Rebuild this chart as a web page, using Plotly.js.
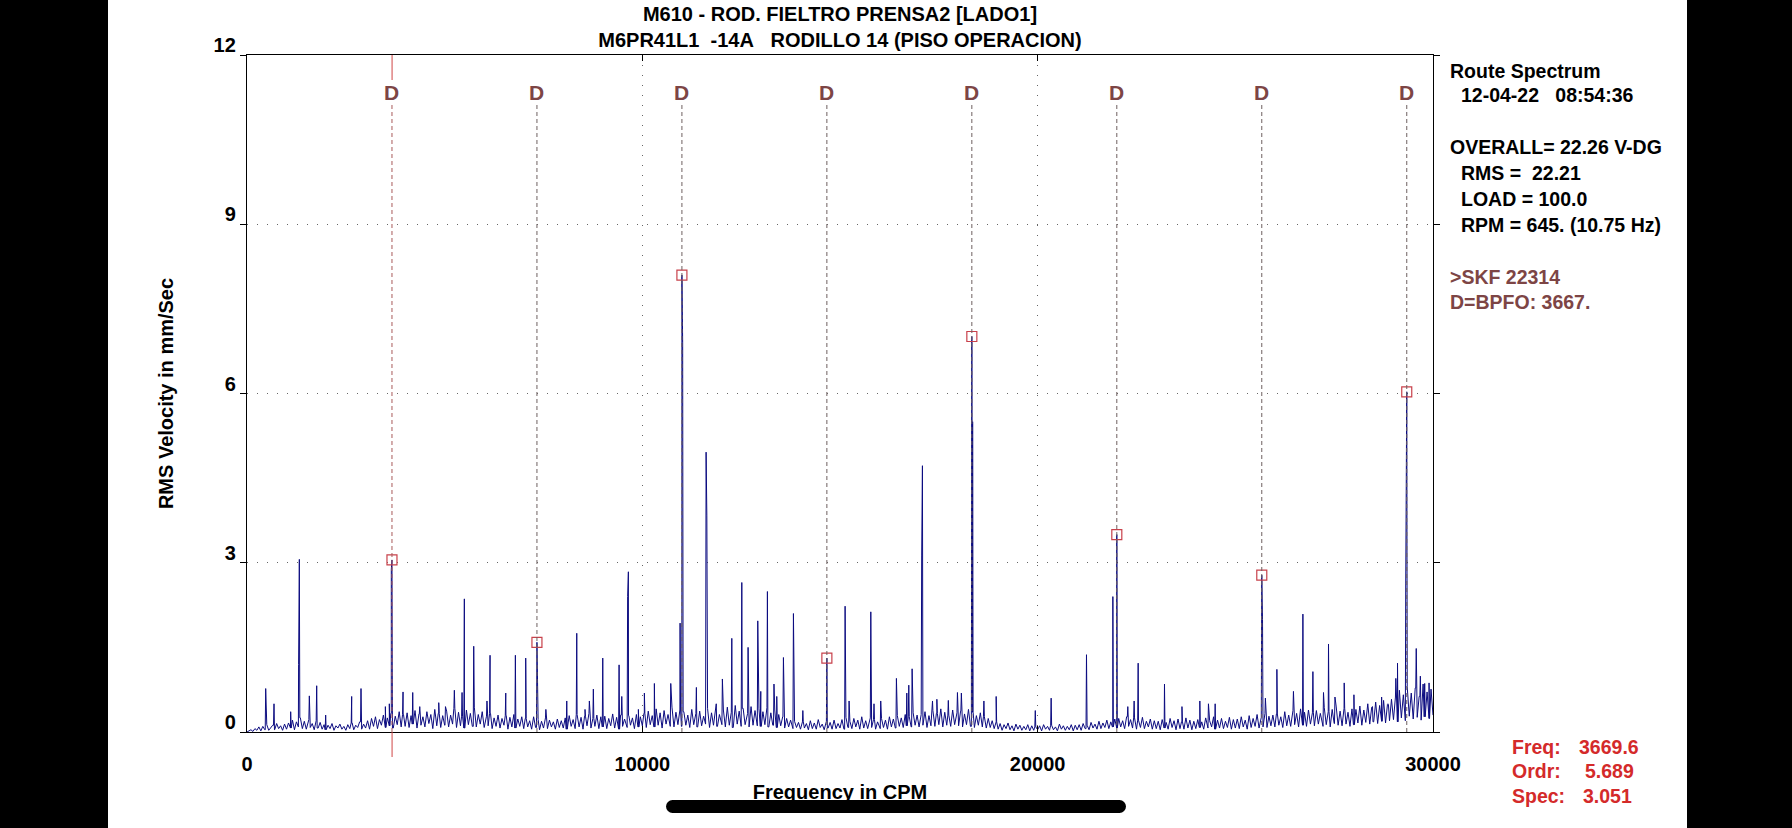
<!DOCTYPE html>
<html><head><meta charset="utf-8">
<script src="https://cdn.plot.ly/plotly-3.0.1.min.js"></script>
<style>html,body{margin:0;padding:0;background:#fff;overflow:hidden}#chart{width:1792px;height:828px}</style>
</head><body><div id="chart"></div>
<script>
// ---- data ----
const floorStep = 50; // CPM between noise-floor samples
const floorAmp = [
0.00,0.02,0.04,0.01,0.06,0.03,0.09,0.02,0.10,0.04,0.13,0.03,0.08,0.12,0.04,0.15,0.06,0.11,0.03,0.14,
0.05,0.16,0.07,0.21,0.04,0.18,0.09,0.25,0.06,0.19,0.05,0.22,0.08,0.15,0.04,0.20,0.07,0.17,0.05,0.13,
0.04,0.12,0.06,0.15,0.03,0.11,0.07,0.14,0.05,0.10,0.03,0.13,0.06,0.16,0.04,0.12,0.08,0.18,0.05,0.14,
0.07,0.20,0.05,0.24,0.10,0.27,0.06,0.22,0.12,0.30,0.08,0.25,0.11,0.33,0.07,0.28,0.13,0.36,0.09,0.31,
0.10,0.34,0.08,0.29,0.14,0.38,0.07,0.32,0.12,0.27,0.09,0.36,0.15,0.31,0.06,0.40,0.11,0.33,0.08,0.29,
0.12,0.37,0.09,0.30,0.14,0.42,0.08,0.35,0.11,0.28,0.07,0.39,0.13,0.33,0.10,0.44,0.09,0.31,0.14,0.36,
0.08,0.28,0.11,0.33,0.06,0.25,0.10,0.30,0.07,0.24,0.12,0.29,0.05,0.26,0.09,0.31,0.07,0.23,0.10,0.27,
0.06,0.24,0.09,0.20,0.05,0.27,0.08,0.22,0.04,0.19,0.07,0.25,0.06,0.21,0.09,0.18,0.05,0.23,0.08,0.20,
0.07,0.25,0.05,0.29,0.10,0.22,0.06,0.31,0.09,0.26,0.05,0.28,0.11,0.33,0.07,0.24,0.10,0.30,0.06,0.27,
0.09,0.28,0.06,0.24,0.11,0.32,0.07,0.26,0.05,0.30,0.10,0.23,0.08,0.29,0.12,0.25,0.06,0.31,0.09,0.27,
0.11,0.33,0.08,0.37,0.13,0.29,0.09,0.41,0.12,0.34,0.07,0.38,0.14,0.31,0.10,0.44,0.09,0.35,0.13,0.39,
0.10,0.36,0.12,0.30,0.08,0.40,0.13,0.33,0.09,0.37,0.11,0.28,0.14,0.42,0.08,0.34,0.12,0.38,0.10,0.31,
0.13,0.39,0.09,0.44,0.12,0.35,0.08,0.47,0.14,0.37,0.10,0.42,0.13,0.33,0.09,0.45,0.12,0.38,0.11,0.41,
0.10,0.36,0.13,0.43,0.09,0.34,0.12,0.39,0.08,0.31,0.11,0.27,0.07,0.24,0.09,0.21,0.06,0.19,0.08,0.17,
0.05,0.18,0.07,0.15,0.04,0.20,0.06,0.16,0.05,0.22,0.08,0.14,0.04,0.19,0.07,0.17,0.05,0.21,0.06,0.15,
0.07,0.22,0.05,0.26,0.08,0.19,0.06,0.24,0.09,0.21,0.05,0.27,0.07,0.20,0.06,0.25,0.08,0.22,0.05,0.18,
0.06,0.24,0.08,0.21,0.05,0.27,0.09,0.23,0.07,0.29,0.10,0.25,0.08,0.31,0.11,0.27,0.09,0.34,0.12,0.30,
0.09,0.31,0.12,0.36,0.08,0.29,0.11,0.38,0.10,0.33,0.13,0.41,0.09,0.35,0.12,0.30,0.10,0.39,0.13,0.34,
0.11,0.37,0.09,0.32,0.13,0.40,0.10,0.35,0.08,0.29,0.12,0.34,0.09,0.27,0.07,0.24,0.08,0.20,0.06,0.18,
0.05,0.15,0.03,0.13,0.06,0.16,0.04,0.11,0.02,0.14,0.05,0.12,0.03,0.10,0.04,0.13,0.02,0.11,0.03,0.09,
0.04,0.11,0.02,0.13,0.05,0.10,0.03,0.12,0.04,0.09,0.02,0.14,0.05,0.11,0.03,0.10,0.04,0.13,0.02,0.12,
0.04,0.13,0.03,0.15,0.06,0.12,0.04,0.17,0.07,0.14,0.05,0.19,0.06,0.16,0.08,0.21,0.06,0.18,0.09,0.23,
0.07,0.24,0.09,0.20,0.06,0.27,0.10,0.22,0.07,0.25,0.05,0.21,0.08,0.26,0.06,0.19,0.09,0.23,0.05,0.20,
0.06,0.19,0.04,0.22,0.07,0.17,0.05,0.24,0.08,0.20,0.04,0.23,0.06,0.18,0.05,0.25,0.07,0.21,0.04,0.19,
0.06,0.22,0.08,0.18,0.05,0.25,0.07,0.20,0.09,0.27,0.05,0.21,0.07,0.24,0.06,0.19,0.08,0.26,0.05,0.22,
0.07,0.23,0.06,0.27,0.09,0.21,0.05,0.29,0.08,0.24,0.10,0.31,0.07,0.26,0.09,0.33,0.08,0.28,0.11,0.30,
0.09,0.32,0.12,0.27,0.08,0.36,0.11,0.30,0.10,0.38,0.13,0.33,0.09,0.41,0.12,0.35,0.10,0.39,0.14,0.34,
0.11,0.38,0.14,0.33,0.10,0.43,0.13,0.36,0.09,0.40,0.15,0.46,0.12,0.37,0.11,0.42,0.14,0.35,0.10,0.41,
0.13,0.40,0.16,0.46,0.12,0.39,0.17,0.50,0.14,0.44,0.18,0.53,0.15,0.47,0.19,0.56,0.16,0.49,0.20,0.58,
0.22,0.62,0.18,0.74,0.25,0.66,0.20,0.80,0.28,0.69,0.23,0.78,0.26,0.63,0.21,0.85,0.27,0.71,0.24,0.76,
0.30];

const peakFreq = [473,683,1105,1305,1324,1577,1763,1990,2648,2884,3500,3600,3650,3947,4192,4370,4850,5020,5245,5440,5498,5735,6070,6148,6545,6789,7050,7352,7560,8088,8341,8550,8660,8761,8999,9412,9480,9628,9647,9900,10052,10305,10719,10955,11020,11367,11613,11632,11870,12025,12263,12516,12675,12920,12996,13164,13330,13400,13569,13822,14060,15129,15230,15779,15860,16030,16427,16690,16740,16824,17066,17085,17340,17450,17740,17971,18070,18355,18640,18950,19940,20341,21235,21902,22280,22440,22542,23208,23650,24102,24320,24490,25688,25760,26051,26470,26709,26962,27230,27357,27520,27754,28000,28470,28700,28860,29060,29102,29310,29576,29680,29790,29900];
const peakAmp  = [0.77,0.50,0.36,1.20,3.06,0.64,0.82,0.30,0.63,0.77,0.45,0.50,2.88,0.71,0.70,0.45,0.52,0.45,0.74,0.70,2.36,1.52,0.55,1.36,0.69,1.36,1.31,0.60,0.40,0.55,1.75,0.40,0.55,0.76,1.31,1.19,0.63,2.40,2.84,0.40,0.69,0.86,0.86,1.93,6.90,0.79,4.96,3.83,0.50,0.94,1.66,2.65,1.50,1.97,0.72,2.49,0.85,0.63,1.32,2.10,0.38,2.23,0.55,2.13,0.50,0.55,0.95,0.69,0.83,1.12,3.12,4.72,0.55,0.58,0.56,0.70,0.69,5.50,0.55,0.63,0.38,0.60,1.37,2.40,0.45,0.55,1.22,0.85,0.45,0.55,0.50,0.50,1.99,0.60,1.11,0.72,2.09,1.07,0.70,1.56,0.62,0.87,0.66,0.45,0.62,0.50,0.95,1.22,2.64,1.48,0.99,0.86,0.87];

// BPFO harmonics (D markers) and the spectrum amplitude marked at each
const dFreq = [3667,7334,11001,14668,18335,22002,25669,29336];
const dAmp  = [3.05,1.59,8.10,1.31,7.01,3.50,2.78,6.03];
const cursorFreq = 3669.6;

const xTickVals = [0,10000,20000,30000];
const xTickText = ['0','10000','20000','30000'];
const yTickVals = [0,3,6,9,12];
const yTickText = ['0','3','6','9','12'];

const titleLines = ['M610 - ROD. FIELTRO PRENSA2 [LADO1]', 'M6PR41L1\u00a0\u00a0-14A\u00a0\u00a0\u00a0RODILLO 14 (PISO OPERACION)'];
const infoText  = ['Route Spectrum','12-04-22\u00a0\u00a0\u00a008:54:36','OVERALL= 22.26 V-DG','RMS =\u00a0\u00a022.21','LOAD = 100.0','RPM = 645. (10.75 Hz)','>SKF 22314','D=BPFO: 3667.'];
const cursorLabels = ['Freq:','Ordr:','Spec:'];
const cursorValues = ['3669.6','5.689','3.051'];

// ---- build the spectrum line ----
const allPk = peakFreq.map((f,i)=>[f,peakAmp[i]]).concat(dFreq.map((f,i)=>[f,dAmp[i]])).sort((a,b)=>a[0]-b[0]);
const pts = floorAmp.map((a,i)=>[i*floorStep,a]);
const nearestFloor = f => floorAmp[Math.max(0,Math.min(floorAmp.length-1, Math.round(f/floorStep)))];
allPk.forEach((p,i)=>{
  pts.push(p);
  const prev = i>0 ? allPk[i-1][0] : -1e9;
  const next = i<allPk.length-1 ? allPk[i+1][0] : 1e9;
  if (p[0]-prev > 30) pts.push([p[0]-12, nearestFloor(p[0]-12)]);
  if (next-p[0] > 30) pts.push([p[0]+12, nearestFloor(p[0]+12)]);
});
pts.sort((a,b)=>a[0]-b[0]);

// ---- geometry helpers (pixel -> paper) ----
const W=1792, H=828, L=247, R=1433, T=55, B=732;
const px = x => (x-L)/(R-L);
const py = y => (B-y)/(B-T);

const FONT = 'Liberation Sans, Arial, Helvetica, sans-serif';
const brown = '#7d4545';
const red = '#d42a2a';

const traces = [
  {x: pts.map(p=>p[0]), y: pts.map(p=>p[1]), type:'scatter', mode:'lines',
   line:{color:'#0b0b80', width:1}, hoverinfo:'skip', cliponaxis:true},
  {x: dFreq, y: dAmp, type:'scatter', mode:'markers',
   marker:{symbol:'square-open', size:10, color:'#c8414b', line:{width:1.2, color:'#c8414b'}}, hoverinfo:'skip'}
];

const shapes = [];
dFreq.forEach((f,i)=>{
  shapes.push({type:'line', xref:'x', yref:'y', x0:f, x1:f, y0:0, y1:11.12, layer:'above',
    line:{color: i===0 ? '#a85a5a' : '#6e6060', width:1, dash:'4px,3px'}});
});
// cursor line (red) visible above the D label and below the axis
shapes.push({type:'line', xref:'x', yref:'paper', x0:cursorFreq, x1:cursorFreq, y0:1, y1:py(80), line:{color:'#d04545', width:1}});
shapes.push({type:'line', xref:'x', yref:'paper', x0:cursorFreq, x1:cursorFreq, y0:0, y1:py(757), line:{color:'#d04545', width:1}});
// phone-screenshot frame: black side bars and home indicator
shapes.push({type:'rect', xref:'paper', yref:'paper', x0:px(0), x1:px(108), y0:py(H+2), y1:py(-2), fillcolor:'#000', line:{width:0}, layer:'above'});
shapes.push({type:'rect', xref:'paper', yref:'paper', x0:px(1687), x1:px(W+2), y0:py(H+2), y1:py(-2), fillcolor:'#000', line:{width:0}, layer:'above'});
shapes.push({type:'rect', xref:'paper', yref:'paper', x0:px(672), x1:px(1120), y0:py(813), y1:py(800), fillcolor:'#000', line:{width:0}, layer:'above'});
shapes.push({type:'circle', xref:'paper', yref:'paper', x0:px(666), x1:px(679), y0:py(813), y1:py(800), fillcolor:'#000', line:{width:0}, layer:'above'});
shapes.push({type:'circle', xref:'paper', yref:'paper', x0:px(1113), x1:px(1126), y0:py(813), y1:py(800), fillcolor:'#000', line:{width:0}, layer:'above'});

const annotations = [];
dFreq.forEach(f=>{
  annotations.push({x:f, y:11.33, xref:'x', yref:'y', text:'D', showarrow:false,
    font:{family:FONT, size:21, color:brown, weight:700}});
});
const infoPos = [[1448,70.7,'#000'],[1459,95,'#000'],[1448,147.3,'#000'],[1459,173.3,'#000'],[1459,199.3,'#000'],[1459,225,'#000'],[1448,276.7,brown],[1448,302.3,brown]];
infoText.forEach((t,i)=>{
  annotations.push({xref:'paper', yref:'paper', x:px(infoPos[i][0]), y:py(infoPos[i][1]), xanchor:'left', yanchor:'middle',
    text:t, showarrow:false, font:{family:FONT, size:19.5, color:infoPos[i][2], weight:700}});
});
const curY = [746.7, 771, 795.7];
const curValX = [1641, 1636, 1634];
cursorLabels.forEach((t,i)=>{
  annotations.push({xref:'paper', yref:'paper', x:px(1510), y:py(curY[i]), xanchor:'left', yanchor:'middle',
    text:t, showarrow:false, font:{family:FONT, size:19.5, color:red, weight:700}});
  annotations.push({xref:'paper', yref:'paper', x:px(curValX[i]), y:py(curY[i]), xanchor:'right', yanchor:'middle',
    text:cursorValues[i], showarrow:false, font:{family:FONT, size:19.5, color:red, weight:700}});
});

const layout = {
  width:W, height:H, margin:{l:L, r:W-R, t:T, b:H-B, pad:0},
  paper_bgcolor:'#fff', plot_bgcolor:'#fff', showlegend:false, hovermode:false,
  font:{family:FONT, color:'#000'},
  title:{text:titleLines.join('<br>'), x:0.5, xref:'paper', xanchor:'center', y:1-21/H, yref:'container', yanchor:'middle',
    font:{family:FONT, size:20, color:'#000', weight:700}},
  xaxis:{range:[0,30000], tickvals:xTickVals, ticktext:xTickText, showline:true, linecolor:'#000', linewidth:1.2, mirror:'ticks',
    ticks:'inside', ticklen:6, tickcolor:'#000', showgrid:true, gridcolor:'#666', gridwidth:1, griddash:'1px,9px',
    zeroline:false, ticklabelstandoff:14, tickfont:{family:FONT, size:20, color:'#000', weight:700},
    title:{text:'Frequency in CPM', standoff:10, font:{family:FONT, size:20, color:'#000', weight:700}}},
  yaxis:{range:[0,12], tickvals:yTickVals, ticktext:yTickText, showline:true, linecolor:'#000', linewidth:1.2, mirror:'ticks',
    ticks:'outside', ticklen:6, tickcolor:'#000', showgrid:true, gridcolor:'#666', gridwidth:1, griddash:'1px,9px',
    zeroline:false, ticklabelshift:-10, tickfont:{family:FONT, size:20, color:'#000', weight:700},
    title:{text:'RMS Velocity in mm/Sec', standoff:34, font:{family:FONT, size:20, color:'#000', weight:700}}},
  shapes:shapes, annotations:annotations
};

Plotly.newPlot('chart', traces, layout, {staticPlot:true, displayModeBar:false});
</script></body></html>
